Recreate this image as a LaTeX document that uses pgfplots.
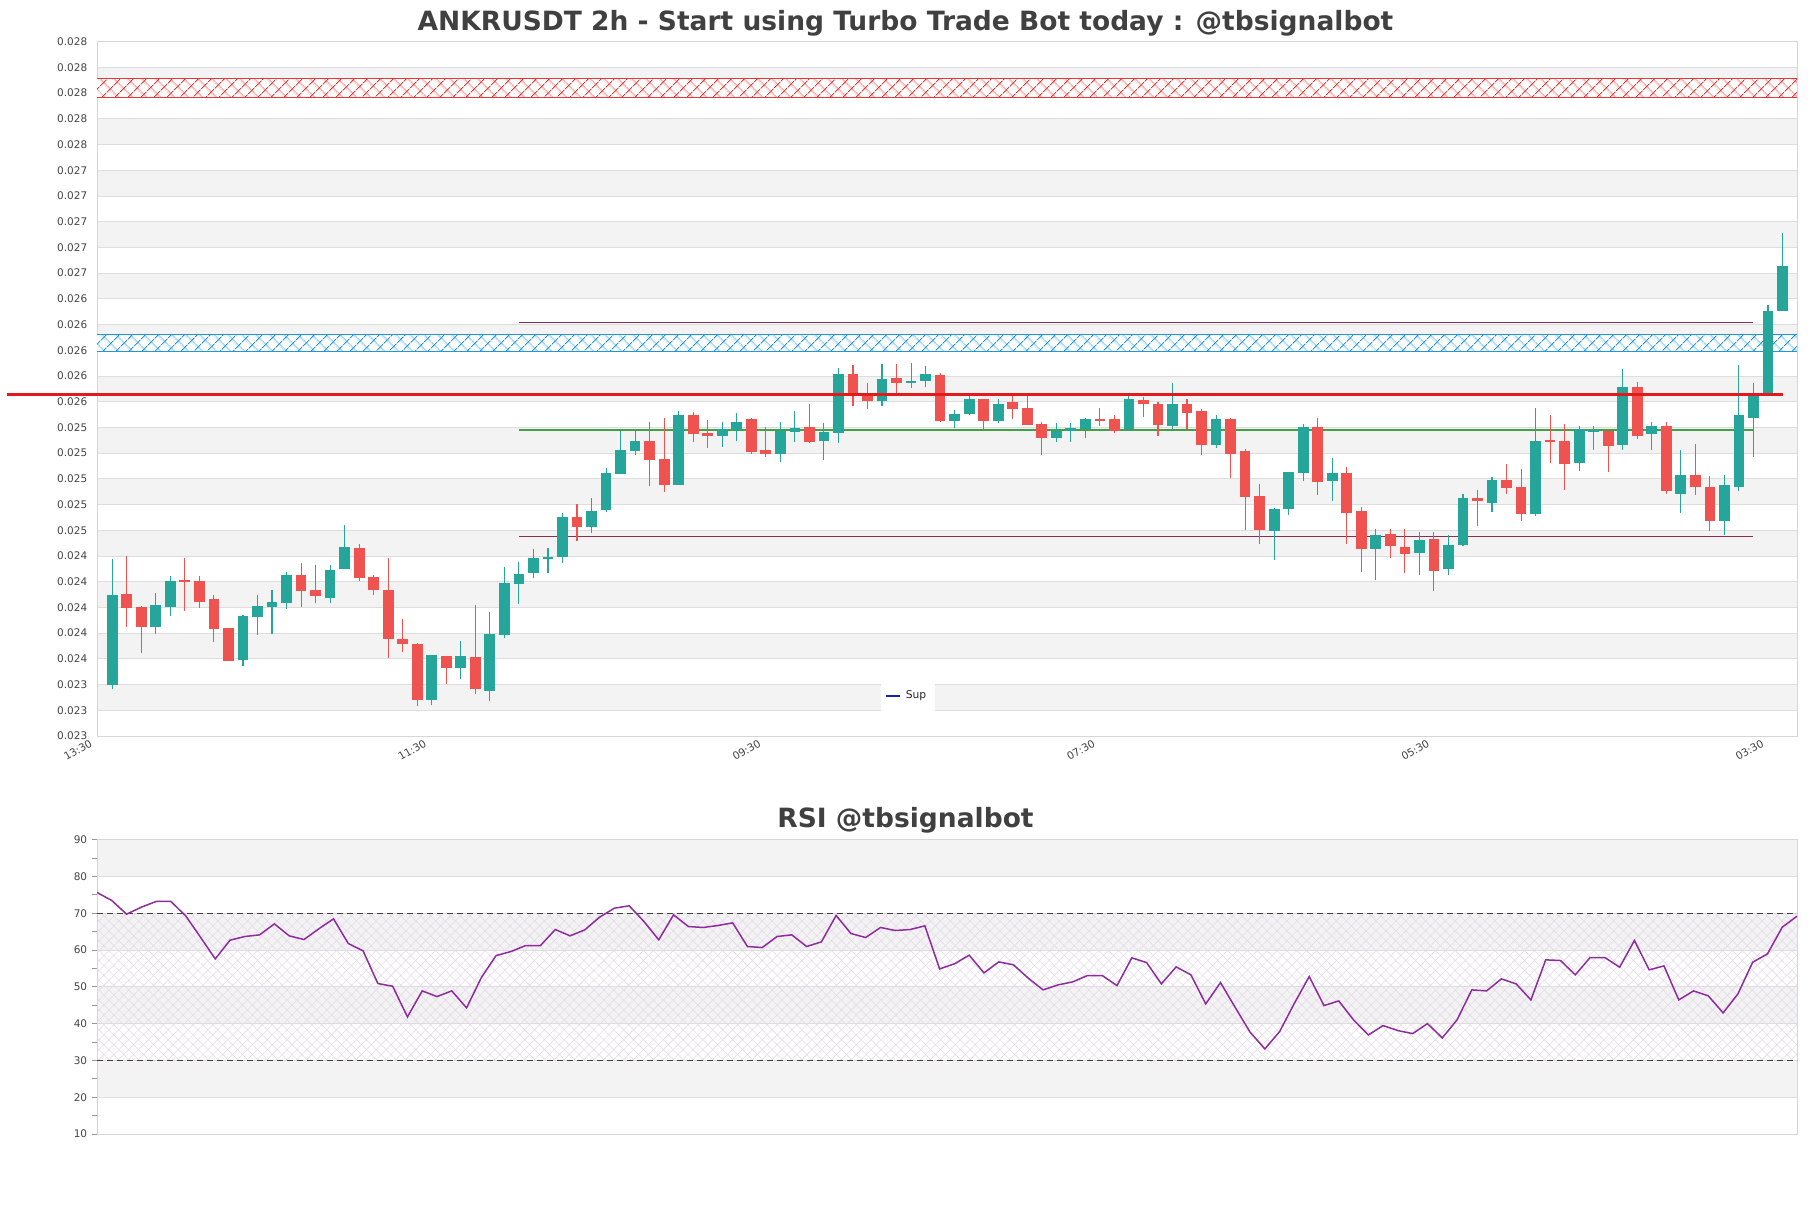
\documentclass[border=0pt]{standalone}
\usepackage{fontspec}
\setmainfont{DejaVu Sans}
\usepackage{pgfplots}
\pgfplotsset{compat=1.18}
\usepackage{pgfplotstable}
\usetikzlibrary{patterns.meta}

\definecolor{bull}{HTML}{26A69A}
\definecolor{bear}{HTML}{EF5350}
\definecolor{band}{HTML}{F3F3F3}
\definecolor{gridc}{HTML}{DDDDDD}
\definecolor{axisc}{HTML}{D6D6D6}
\definecolor{txt}{HTML}{444444}
\definecolor{ttl}{HTML}{404040}
\definecolor{zonered}{HTML}{E53935}
\definecolor{zoneblue}{HTML}{2196DE}
\definecolor{resred}{HTML}{E31A1C}
\definecolor{lvl}{HTML}{8B2D4B}
\definecolor{lvlgreen}{HTML}{43A047}
\definecolor{rsic}{HTML}{8E2C9E}
\definecolor{hatchc}{HTML}{E4DAEA}
\definecolor{legblue}{HTML}{1F1FB4}
\definecolor{tickc}{HTML}{999999}

\newcommand\tickfont{\fontsize{4.2}{5}\selectfont}

\pgfplotstableread{
x o h l c
0 0.023399 0.024377 0.023366 0.024097
3 0.023851 0.024113 0.023796 0.024019
4 0.024006 0.024242 0.023936 0.024206
9 0.023594 0.023941 0.023547 0.023934
10 0.023928 0.024097 0.023788 0.024011
11 0.024006 0.024136 0.023796 0.024043
12 0.024037 0.024276 0.023988 0.024253
15 0.024076 0.024331 0.024037 0.024292
16 0.024302 0.024642 0.024302 0.024471
22 0.023278 0.023632 0.023239 0.023632
24 0.023526 0.023740 0.023440 0.023624
26 0.023347 0.023963 0.023270 0.023795
27 0.023787 0.024312 0.023759 0.024190
28 0.024185 0.024353 0.024028 0.024260
29 0.024271 0.024454 0.024232 0.024384
30 0.024379 0.024462 0.024271 0.024390
31 0.024395 0.024734 0.024348 0.024702
33 0.024627 0.024850 0.024581 0.024749
34 0.024759 0.025083 0.024744 0.025044
35 0.025039 0.025372 0.025039 0.025222
36 0.025217 0.025372 0.025183 0.025292
39 0.024953 0.025530 0.024953 0.025494
42 0.025336 0.025443 0.025251 0.025389
43 0.025383 0.025514 0.025297 0.025443
46 0.025196 0.025443 0.025128 0.025373
47 0.025368 0.025529 0.025287 0.025394
49 0.025297 0.025435 0.025149 0.025363
50 0.025360 0.025865 0.025282 0.025818
53 0.025602 0.025891 0.025566 0.025779
55 0.025745 0.025899 0.025706 0.025764
56 0.025758 0.025881 0.025714 0.025818
58 0.025454 0.025537 0.025399 0.025506
59 0.025508 0.025649 0.025493 0.025623
61 0.025454 0.025623 0.025433 0.025581
65 0.025319 0.025436 0.025286 0.025374
66 0.025369 0.025436 0.025288 0.025397
67 0.025387 0.025475 0.025319 0.025462
70 0.025387 0.025649 0.025369 0.025623
73 0.025408 0.025748 0.025390 0.025584
76 0.025260 0.025499 0.025244 0.025468
80 0.024597 0.024771 0.024371 0.024764
81 0.024764 0.025052 0.024722 0.025052
82 0.025044 0.025429 0.024987 0.025405
84 0.024987 0.025166 0.024831 0.025044
87 0.024457 0.024608 0.024216 0.024561
90 0.024426 0.024587 0.024255 0.024525
92 0.024299 0.024561 0.024255 0.024486
93 0.024486 0.024881 0.024481 0.024852
95 0.024816 0.025013 0.024745 0.024992
98 0.024730 0.025551 0.024709 0.025296
101 0.025122 0.025413 0.025060 0.025385
102 0.025368 0.025415 0.025228 0.025378
104 0.025267 0.025855 0.025228 0.025715
106 0.025352 0.025443 0.025228 0.025412
108 0.024883 0.025228 0.024731 0.025031
111 0.024676 0.025031 0.024560 0.024953
112 0.024940 0.025886 0.024904 0.025497
113 0.025477 0.025746 0.025174 0.025653
114 0.025648 0.026352 0.025648 0.026306
115 0.026308 0.026912 0.026308 0.026655
}\bulltab

\pgfplotstableread{
x o h l c
1 0.024105 0.024398 0.023851 0.023998
2 0.024004 0.024014 0.023648 0.023851
5 0.024214 0.024385 0.023975 0.024201
6 0.024206 0.024242 0.023998 0.024045
7 0.024066 0.024097 0.023734 0.023835
8 0.023840 0.023840 0.023586 0.023586
13 0.024253 0.024346 0.024006 0.024131
14 0.024136 0.024331 0.024037 0.024089
17 0.024463 0.024494 0.024209 0.024232
18 0.024237 0.024253 0.024100 0.024139
19 0.024139 0.024385 0.023607 0.023757
20 0.023755 0.023910 0.023653 0.023718
21 0.023717 0.023725 0.023234 0.023278
23 0.023624 0.023624 0.023404 0.023526
25 0.023616 0.024020 0.023329 0.023363
32 0.024702 0.024803 0.024519 0.024627
37 0.025292 0.025439 0.024943 0.025147
38 0.025152 0.025471 0.024899 0.024953
40 0.025494 0.025522 0.025289 0.025349
41 0.025355 0.025459 0.025240 0.025336
44 0.025464 0.025472 0.025196 0.025211
45 0.025224 0.025402 0.025172 0.025196
48 0.025402 0.025584 0.025282 0.025287
51 0.025818 0.025883 0.025566 0.025641
52 0.025649 0.025748 0.025547 0.025602
54 0.025787 0.025891 0.025662 0.025745
57 0.025810 0.025826 0.025441 0.025454
60 0.025623 0.025623 0.025389 0.025454
62 0.025600 0.025649 0.025462 0.025545
63 0.025553 0.025649 0.025421 0.025421
64 0.025429 0.025444 0.025182 0.025319
68 0.025465 0.025553 0.025408 0.025452
69 0.025468 0.025499 0.025353 0.025369
71 0.025616 0.025636 0.025481 0.025582
72 0.025582 0.025600 0.025330 0.025421
74 0.025584 0.025623 0.025390 0.025509
75 0.025530 0.025545 0.025182 0.025260
77 0.025468 0.025475 0.025003 0.025197
78 0.025218 0.025234 0.024605 0.024862
79 0.024868 0.024958 0.024496 0.024605
83 0.025405 0.025475 0.024878 0.024979
85 0.025044 0.025091 0.024496 0.024738
86 0.024751 0.024779 0.024278 0.024457
88 0.024571 0.024608 0.024387 0.024481
89 0.024470 0.024608 0.024270 0.024418
91 0.024530 0.024587 0.024130 0.024286
94 0.024852 0.024912 0.024636 0.024831
96 0.024992 0.025114 0.024881 0.024932
97 0.024940 0.025078 0.024675 0.024730
99 0.025306 0.025499 0.025127 0.025286
100 0.025296 0.025429 0.024917 0.025114
103 0.025373 0.025373 0.025052 0.025259
105 0.025715 0.025754 0.025311 0.025337
107 0.025412 0.025443 0.024883 0.024902
109 0.025031 0.025269 0.024878 0.024940
110 0.024940 0.025023 0.024598 0.024676
}\beartab

\pgfplotstableread{
x r
0 75.67
1 73.49
2 69.77
3 71.68
4 73.22
5 73.22
6 69.32
7 63.51
8 57.62
9 62.70
10 63.70
11 64.15
12 67.14
13 63.88
14 62.88
15 65.78
16 68.50
17 61.79
18 59.80
19 50.91
20 50.18
21 41.84
22 48.91
23 47.37
24 48.91
25 44.29
26 52.54
27 58.53
28 59.61
29 61.25
30 61.25
31 65.60
32 63.88
33 65.51
34 68.96
35 71.41
36 72.04
37 67.78
38 62.79
39 69.59
40 66.42
41 66.15
42 66.69
43 67.41
44 60.98
45 60.70
46 63.70
47 64.15
48 60.98
49 62.24
50 69.41
51 64.51
52 63.42
53 66.15
54 65.33
55 65.60
56 66.60
57 54.90
58 56.26
59 58.62
60 53.81
61 56.80
62 55.99
63 52.36
64 49.18
65 50.54
66 51.36
67 53.08
68 53.08
69 50.36
70 57.89
71 56.62
72 50.82
73 55.44
74 53.27
75 45.37
76 51.18
77 44.38
78 37.70
79 33.13
80 37.85
81 45.56
82 52.81
83 44.92
84 46.19
85 41.02
86 36.94
87 39.48
88 38.12
89 37.30
90 40.02
91 36.12
92 41.02
93 49.18
94 48.91
95 52.18
96 50.82
97 46.46
98 57.35
99 57.17
100 53.27
101 57.98
102 57.98
103 55.35
104 62.61
105 54.63
106 55.71
107 46.46
108 48.91
109 47.55
110 42.93
111 48.09
112 56.71
113 58.98
114 66.24
115 69.23
}\rsitab

\begin{document}
\begin{tikzpicture}
\path (0,0) rectangle (724.4pt,-483.2pt);

\node[font=\bfseries\fontsize{10.6}{12}\selectfont, text=ttl] at (362.2pt,-9.2pt)
  {ANKRUSDT 2h - Start using Turbo Trade Bot today : @tbsignalbot};
\node[font=\bfseries\fontsize{10.6}{12}\selectfont, text=ttl] at (362.2pt,-328pt)
  {RSI @tbsignalbot};

% ---------------- main price chart ----------------
\begin{axis}[
  at={(38.8pt,-294.4pt)}, anchor=south west,
  scale only axis, width=680pt, height=277.7pt,
  xmin=-1.05, xmax=116, ymin=0.0230, ymax=0.0284,
  clip=false, set layers,
  axis line style={draw=axisc, line width=0.4pt},
  xtick=\empty,
  ytick={0.0230,0.0232,0.0234,0.0236,0.0238,0.0240,0.0242,0.0244,0.0246,0.0248,0.0250,0.0252,0.0254,0.0256,0.0258,0.0260,0.0262,0.0264,0.0266,0.0268,0.0270,0.0272,0.0274,0.0276,0.0278,0.0280,0.0282,0.0284},
  yticklabels={0.023,0.023,0.023,0.024,0.024,0.024,0.024,0.024,0.025,0.025,0.025,0.025,0.025,0.026,0.026,0.026,0.026,0.026,0.027,0.027,0.027,0.027,0.027,0.028,0.028,0.028,0.028,0.028},
  scaled y ticks=false,
  major tick length=0pt,
  ymajorgrids, grid style={draw=gridc, line width=0.4pt},
  yticklabel style={font=\tickfont, text=txt, inner xsep=0pt, xshift=-3.7pt},
  legend style={at={(0.477,0.0576)}, anchor=center, draw=none, fill=white,
    font=\fontsize{4.3}{5}\selectfont, text=black!85, inner sep=1.6pt},
  legend image code/.code={\draw[#1] (0pt,0pt) -- (5.6pt,0pt);},
]
\addlegendimage{legblue, line width=0.9pt}
\addlegendentry{Sup}

\begin{pgfonlayer}{axis background}
\fill[band] (rel axis cs:0,0.037037) rectangle (rel axis cs:1,0.074074);
\fill[band] (rel axis cs:0,0.111111) rectangle (rel axis cs:1,0.148148);
\fill[band] (rel axis cs:0,0.185185) rectangle (rel axis cs:1,0.222222);
\fill[band] (rel axis cs:0,0.259259) rectangle (rel axis cs:1,0.296296);
\fill[band] (rel axis cs:0,0.333333) rectangle (rel axis cs:1,0.370370);
\fill[band] (rel axis cs:0,0.407407) rectangle (rel axis cs:1,0.444444);
\fill[band] (rel axis cs:0,0.481481) rectangle (rel axis cs:1,0.518519);
\fill[band] (rel axis cs:0,0.555556) rectangle (rel axis cs:1,0.592593);
\fill[band] (rel axis cs:0,0.629630) rectangle (rel axis cs:1,0.666667);
\fill[band] (rel axis cs:0,0.703704) rectangle (rel axis cs:1,0.740741);
\fill[band] (rel axis cs:0,0.777778) rectangle (rel axis cs:1,0.814815);
\fill[band] (rel axis cs:0,0.851852) rectangle (rel axis cs:1,0.888889);
\fill[band] (rel axis cs:0,0.925926) rectangle (rel axis cs:1,0.962963);
\end{pgfonlayer}

% zones
\fill[white] (axis cs:-1.05,0.027969) rectangle (axis cs:116,0.028113);
\fill[pattern={Hatch[angle=45,distance=4pt,line width=0.35pt]}, pattern color=zonered]
  (axis cs:-1.05,0.027969) rectangle (axis cs:116,0.028113);
\draw[zonered, line width=0.35pt] (axis cs:-1.05,0.027969) -- (axis cs:116,0.027969)
  (axis cs:-1.05,0.028113) -- (axis cs:116,0.028113);
\fill[white] (axis cs:-1.05,0.025990) rectangle (axis cs:116,0.026125);
\fill[pattern={Hatch[angle=45,distance=4pt,line width=0.35pt]}, pattern color=zoneblue]
  (axis cs:-1.05,0.025990) rectangle (axis cs:116,0.026125);
\draw[zoneblue, line width=0.35pt] (axis cs:-1.05,0.025990) -- (axis cs:116,0.025990)
  (axis cs:-1.05,0.026125) -- (axis cs:116,0.026125);

% level lines
\addplot[lvl, line width=0.45pt, forget plot] coordinates {(28,0.026217) (113,0.026217)};
\addplot[lvlgreen, line width=0.5pt, forget plot] coordinates {(28,0.025381) (113,0.025381)};
\addplot[lvl, line width=0.45pt, forget plot] coordinates {(28,0.024553) (113,0.024553)};

% wicks
\addplot[draw=none, mark=none, forget plot,
  error bars/.cd, y dir=both, y explicit, error mark=none,
  error bar style={draw=bull, line width=0.45pt, line cap=butt}]
  table[x=x, y expr={(\thisrow{h}+\thisrow{l})/2}, y error expr={(\thisrow{h}-\thisrow{l})/2}] {\bulltab};
\addplot[draw=none, mark=none, forget plot,
  error bars/.cd, y dir=both, y explicit, error mark=none,
  error bar style={draw=bear, line width=0.45pt, line cap=butt}]
  table[x=x, y expr={(\thisrow{h}+\thisrow{l})/2}, y error expr={(\thisrow{h}-\thisrow{l})/2}] {\beartab};
% bodies
\addplot[draw=none, mark=none, forget plot,
  error bars/.cd, y dir=both, y explicit, error mark=none,
  error bar style={draw=bull, line width=4.3pt, line cap=butt}]
  table[x=x, y expr={(\thisrow{o}+\thisrow{c})/2}, y error expr={(\thisrow{c}-\thisrow{o})/2}] {\bulltab};
\addplot[draw=none, mark=none, forget plot,
  error bars/.cd, y dir=both, y explicit, error mark=none,
  error bar style={draw=bear, line width=4.3pt, line cap=butt}]
  table[x=x, y expr={(\thisrow{o}+\thisrow{c})/2}, y error expr={(\thisrow{o}-\thisrow{c})/2}] {\beartab};

% resistance line
\addplot[resred, line width=1pt, forget plot] coordinates {(-7.27,0.025658) (115,0.025658)};

% x tick labels
\node[yshift=-5.6pt, xshift=-0.4pt, rotate=30, font=\tickfont, text=txt] at (axis cs:-2.3,0.0230) {13:30};
\node[yshift=-5.6pt, xshift=-0.4pt, rotate=30, font=\tickfont, text=txt] at (axis cs:20.72,0.0230) {11:30};
\node[yshift=-5.6pt, xshift=-0.4pt, rotate=30, font=\tickfont, text=txt] at (axis cs:43.74,0.0230) {09:30};
\node[yshift=-5.6pt, xshift=-0.4pt, rotate=30, font=\tickfont, text=txt] at (axis cs:66.76,0.0230) {07:30};
\node[yshift=-5.6pt, xshift=-0.4pt, rotate=30, font=\tickfont, text=txt] at (axis cs:89.78,0.0230) {05:30};
\node[yshift=-5.6pt, xshift=-0.4pt, rotate=30, font=\tickfont, text=txt] at (axis cs:112.8,0.0230) {03:30};
\end{axis}

% ---------------- RSI ----------------
\begin{axis}[
  at={(38.8pt,-453.6pt)}, anchor=south west,
  scale only axis, width=680pt, height=117.7pt,
  xmin=0, xmax=115, ymin=10, ymax=90,
  set layers,
  axis line style={draw=axisc, line width=0.4pt},
  xtick=\empty,
  ytick={10,20,30,40,50,60,70,80,90},
  yticklabels={10,20,30,40,50,60,70,80,90},
  minor ytick={15,25,35,45,55,65,75,85},
  ytick pos=left, tick align=outside,
  major tick length=1.85pt, minor tick length=1.85pt,
  every tick/.style={draw=tickc, line width=0.4pt},
  ymajorgrids, grid style={draw=gridc, line width=0.4pt},
  yticklabel style={font=\tickfont, text=txt, inner xsep=0pt, xshift=-1.9pt},
]
\begin{pgfonlayer}{axis background}
\fill[band] (rel axis cs:0,0.875) rectangle (rel axis cs:1,1);
\fill[band] (rel axis cs:0,0.625) rectangle (rel axis cs:1,0.75);
\fill[band] (rel axis cs:0,0.375) rectangle (rel axis cs:1,0.5);
\fill[band] (rel axis cs:0,0.125) rectangle (rel axis cs:1,0.25);
\end{pgfonlayer}
\fill[pattern={Hatch[angle=45,distance=2.8pt,line width=0.22pt]}, pattern color=hatchc]
  (axis cs:0,30) rectangle (axis cs:115,70);
\draw[black!75, line width=0.5pt, dash pattern=on 2.4pt off 1.6pt] (axis cs:0,70) -- (axis cs:115,70);
\draw[black!75, line width=0.5pt, dash pattern=on 2.4pt off 1.6pt] (axis cs:0,30) -- (axis cs:115,30);
\addplot[rsic, line width=0.6pt, mark=none] table[x=x, y=r] {\rsitab};
\end{axis}

\pgfresetboundingbox
\useasboundingbox (0,0) rectangle (724.4pt,-483.2pt);
\end{tikzpicture}
\end{document}
